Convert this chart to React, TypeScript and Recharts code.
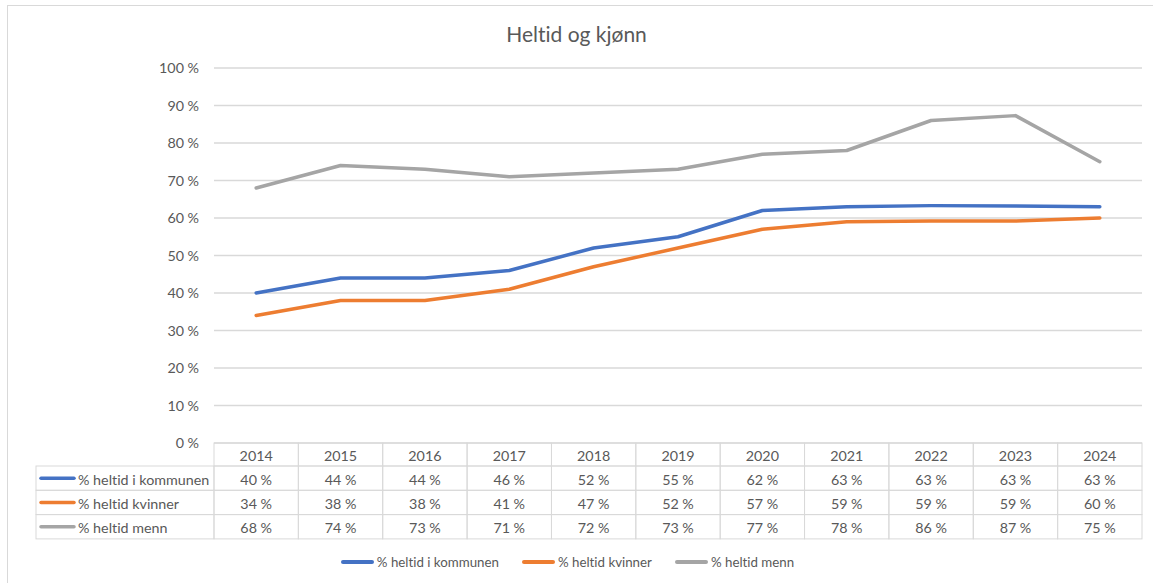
import React from "react";
import { CartesianGrid, Legend, Line, LineChart, XAxis, YAxis } from "recharts";

const years = ["2014", "2015", "2016", "2017", "2018", "2019", "2020", "2021", "2022", "2023", "2024"];
const kommunen = [40, 44, 44, 46, 52, 55, 62, 63, 63.3, 63.2, 63];
const kvinner = [34, 38, 38, 41, 47, 52, 57, 59, 59.2, 59.2, 60];
const menn = [68, 74, 73, 71, 72, 73, 77, 78, 86, 87.3, 75];
const yTicks = [0, 10, 20, 30, 40, 50, 60, 70, 80, 90, 100];

const series = [
  { key: "kommunen", name: "% heltid i kommunen", color: "#4472C4", values: kommunen },
  { key: "kvinner", name: "% heltid kvinner", color: "#ED7D31", values: kvinner },
  { key: "menn", name: "% heltid menn", color: "#A5A5A5", values: menn },
];

const data = years.map((year, i) => ({
  year,
  kommunen: kommunen[i],
  kvinner: kvinner[i],
  menn: menn[i],
}));

const W = 1153;
const H = 583;
const PLOT_LEFT = 214;
const PLOT_RIGHT = 1142;
const PLOT_TOP = 68;
const PLOT_BOTTOM = 443;
const COL_W = (PLOT_RIGHT - PLOT_LEFT) / years.length;
const HEAD_H = 23;
const ROW_H = 24.3;
const LABEL_LEFT = 36;
const TEXT = "#595959";
const GRID = "#d9d9d9";
const FONT = "Lato, 'Open Sans', sans-serif";
const FS = 14.3;
const LEGEND_FS = 13.3;

const pct = (v: number) => `${Math.round(v)}\u202F%`;
const noLig = { fontVariantLigatures: "none" } as React.CSSProperties;

const TableTick = (props: any) => {
  const { x, y, payload } = props;
  const i = payload.index;
  const left = x - COL_W / 2;
  return (
    <g style={noLig}>
      <rect x={left} y={y} width={COL_W} height={HEAD_H} fill="none" stroke={GRID} />
      <text x={x} y={y + HEAD_H / 2 + 1} textAnchor="middle" dominantBaseline="central" fill={TEXT} fontSize={FS} fontFamily={FONT}>
        {payload.value}
      </text>
      {series.map((s, r) => {
        const top = y + HEAD_H + r * ROW_H;
        return (
          <g key={s.key}>
            <rect x={left} y={top} width={COL_W} height={ROW_H} fill="none" stroke={GRID} />
            <text x={x} y={top + ROW_H / 2 + 1} textAnchor="middle" dominantBaseline="central" fill={TEXT} fontSize={FS} fontFamily={FONT}>
              {pct(s.values[i])}
            </text>
            {i === 0 && (
              <g>
                <rect x={LABEL_LEFT} y={top} width={left - LABEL_LEFT} height={ROW_H} fill="none" stroke={GRID} />
                <line x1={LABEL_LEFT + 5} x2={LABEL_LEFT + 38} y1={top + ROW_H / 2} y2={top + ROW_H / 2} stroke={s.color} strokeWidth={3.5} strokeLinecap="round" />
                <text x={LABEL_LEFT + 42} y={top + ROW_H / 2 + 1} dominantBaseline="central" fill={TEXT} fontSize={FS} fontFamily={FONT}>
                  {s.name}
                </text>
              </g>
            )}
          </g>
        );
      })}
    </g>
  );
};

const LegendContent = () => (
  <div style={{ display: "flex", justifyContent: "center", fontFamily: FONT, fontSize: LEGEND_FS, color: TEXT, ...noLig }}>
    {series.map((s, i) => (
      <div key={s.key} style={{ display: "flex", alignItems: "center", marginLeft: i === 0 ? 0 : 23 }}>
        <span style={{ display: "inline-block", width: 33, height: 3.5, borderRadius: 2, background: s.color, marginRight: 3 }} />
        <span>{s.name}</span>
      </div>
    ))}
  </div>
);

export default function App() {
  return (
    <div style={{ position: "absolute", left: 0, top: 0, width: W, height: H, background: "#fff", overflow: "hidden" }}>
      <div style={{ position: "absolute", left: 7, top: 5, width: W, height: H, borderLeft: `1px solid ${GRID}`, borderTop: `1px solid ${GRID}` }} />
      <div style={{ position: "absolute", left: 0, top: 21, width: W, textAlign: "center", fontFamily: FONT, fontSize: 21, color: TEXT, ...noLig }}>
        Heltid og kjønn
      </div>
      <LineChart
        width={W}
        height={H}
        data={data}
        margin={{ top: PLOT_TOP, right: W - PLOT_RIGHT, left: PLOT_LEFT - 70, bottom: H - PLOT_BOTTOM - 97 }}
      >
        <CartesianGrid vertical={false} stroke={GRID} strokeWidth={1.5} />
        <XAxis
          dataKey="year"
          height={97}
          padding={{ left: COL_W / 2, right: COL_W / 2 }}
          axisLine={false}
          tickLine={false}
          tickSize={0}
          tickMargin={0}
          interval={0}
          tick={<TableTick />}
        />
        <YAxis
          width={70}
          domain={[0, 100]}
          ticks={yTicks}
          axisLine={false}
          tickLine={false}
          tickSize={0}
          tickMargin={15}
          tickFormatter={(v: number) => `${v}\u202F%`}
          tick={{ fill: TEXT, fontSize: FS, fontFamily: FONT }}
        />
        <Legend verticalAlign="middle" align="center" layout="horizontal" content={<LegendContent />} wrapperStyle={{ top: 554, left: -9, width: W }} />
        {series.map((s) => (
          <Line
            key={s.key}
            type="linear"
            dataKey={s.key}
            name={s.name}
            stroke={s.color}
            strokeWidth={3.5}
            strokeLinecap="round"
            strokeLinejoin="round"
            dot={false}
            activeDot={false}
            isAnimationActive={false}
          />
        ))}
      </LineChart>
    </div>
  );
}
